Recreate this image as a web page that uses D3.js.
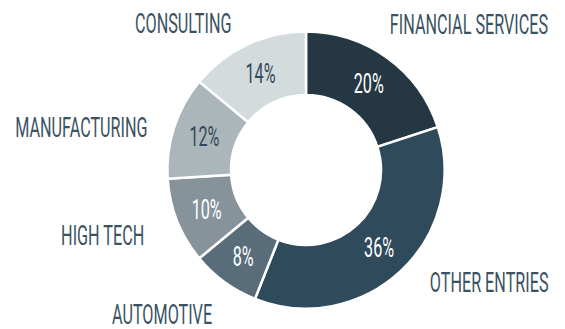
<!DOCTYPE html>
<html><head><meta charset="utf-8">
<script src="https://cdn.jsdelivr.net/npm/d3@7"></script>
<style>
html,body{margin:0;padding:0;background:#fff;}
text{font-family:Roboto,"Liberation Sans",sans-serif;font-weight:400;}
</style></head>
<body><svg id="c" width="565" height="329"></svg>
<script>
const categories = ["FINANCIAL SERVICES","OTHER ENTRIES","AUTOMOTIVE","HIGH TECH","MANUFACTURING","CONSULTING"];
const values = [20,36,8,10,12,14];
const colors = ["#243743","#2f4a5a","#586c7a","#86939b","#abb6bb","#d4dbdd"];
const pctColors = ["#ffffff","#ffffff","#ffffff","#ffffff","#34495a","#34495a"];
// label nudges relative to computed outer label point [dx, dy]
const labelNudge = [[-19,-4],[4,-15],[9,3],[1,1],[8,12],[0,12]];

const W=565,H=329,cx=306,cy=170,rOut=138.6,rIn=75,rLab=175;
const svg=d3.select("#c");
const g=svg.append("g").attr("transform",`translate(${cx},${cy})`);
const data=categories.map((c,i)=>({cat:c,v:values[i],i}));
const pie=d3.pie().value(d=>d.v).sort(null);
const arcs=pie(data);
const arc=d3.arc().innerRadius(rIn).outerRadius(rOut);
const lab=d3.arc().innerRadius(rLab).outerRadius(rLab);
g.selectAll("path").data(arcs).join("path")
  .attr("d",arc).attr("fill",d=>colors[d.data.i])
  .attr("stroke","#fff").attr("stroke-width",2.5);
const sx=0.6, fs=27;
g.selectAll("text.pct").data(arcs).join("text").attr("class","pct")
  .attr("transform",d=>{const [x,y]=arc.centroid(d);return `translate(${x},${y+9.5}) scale(${sx},1)`;})
  .attr("text-anchor","middle").attr("font-size",fs)
  .attr("fill",d=>pctColors[d.data.i]).text(d=>d.data.v+"%");
g.selectAll("text.lab").data(arcs).join("text").attr("class","lab")
  .attr("transform",d=>{const [x,y]=lab.centroid(d);const n=labelNudge[d.data.i];return `translate(${x+n[0]},${y+n[1]+9.5}) scale(${sx},1)`;})
  .attr("text-anchor",d=>{const m=(d.startAngle+d.endAngle)/2;return m<Math.PI?"start":"end";})
  .attr("font-size",fs).attr("fill","#3b5262").text(d=>d.data.cat);
</script></body></html>
